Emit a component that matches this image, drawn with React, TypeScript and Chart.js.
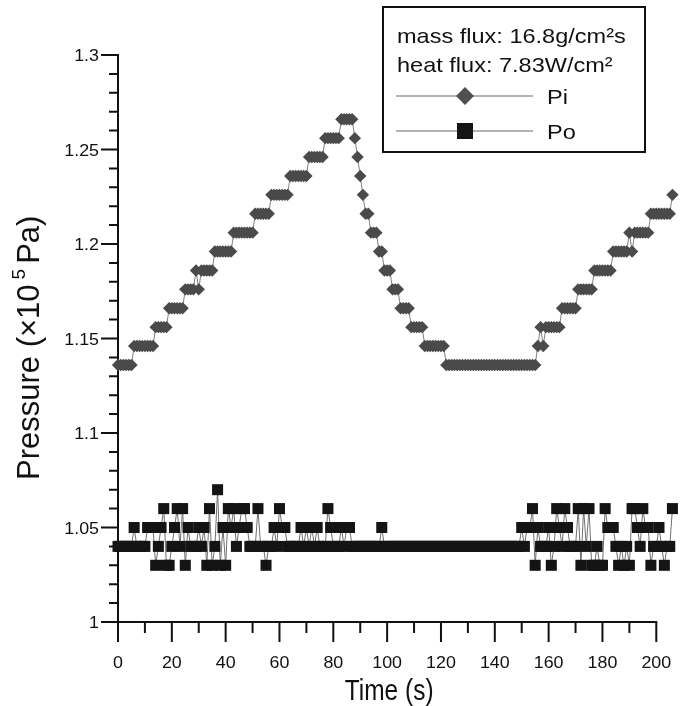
import React, { useEffect, useRef } from 'react';
import { Chart, registerables } from 'chart.js';

Chart.register(...registerables);

// ---------------- data ----------------
const timeS = [
  0, 1, 2, 3, 4, 5, 6, 7, 8, 9,
  10, 11, 12, 13, 14, 15, 16, 17, 18, 19,
  20, 21, 22, 23, 24, 25, 26, 27, 28, 29,
  30, 31, 32, 33, 34, 35, 36, 37, 38, 39,
  40, 41, 42, 43, 44, 45, 46, 47, 48, 49,
  50, 51, 52, 53, 54, 55, 56, 57, 58, 59,
  60, 61, 62, 63, 64, 65, 66, 67, 68, 69,
  70, 71, 72, 73, 74, 75, 76, 77, 78, 79,
  80, 81, 82, 83, 84, 85, 86, 87, 88, 89,
  90, 91, 92, 93, 94, 95, 96, 97, 98, 99,
  100, 101, 102, 103, 104, 105, 106, 107, 108, 109,
  110, 111, 112, 113, 114, 115, 116, 117, 118, 119,
  120, 121, 122, 123, 124, 125, 126, 127, 128, 129,
  130, 131, 132, 133, 134, 135, 136, 137, 138, 139,
  140, 141, 142, 143, 144, 145, 146, 147, 148, 149,
  150, 151, 152, 153, 154, 155, 156, 157, 158, 159,
  160, 161, 162, 163, 164, 165, 166, 167, 168, 169,
  170, 171, 172, 173, 174, 175, 176, 177, 178, 179,
  180, 181, 182, 183, 184, 185, 186, 187, 188, 189,
  190, 191, 192, 193, 194, 195, 196, 197, 198, 199,
  200, 201, 202, 203, 204, 205, 206,
];

const piValues = [
  1.136, 1.136, 1.136, 1.136, 1.136, 1.136, 1.146, 1.146, 1.146, 1.146,
  1.146, 1.146, 1.146, 1.146, 1.156, 1.156, 1.156, 1.156, 1.156, 1.166,
  1.166, 1.166, 1.166, 1.166, 1.166, 1.176, 1.176, 1.176, 1.176, 1.186,
  1.176, 1.186, 1.186, 1.186, 1.186, 1.186, 1.196, 1.196, 1.196, 1.196,
  1.196, 1.196, 1.196, 1.206, 1.206, 1.206, 1.206, 1.206, 1.206, 1.206,
  1.206, 1.216, 1.216, 1.216, 1.216, 1.216, 1.216, 1.226, 1.226, 1.226,
  1.226, 1.226, 1.226, 1.226, 1.236, 1.236, 1.236, 1.236, 1.236, 1.236,
  1.236, 1.246, 1.246, 1.246, 1.246, 1.246, 1.246, 1.256, 1.256, 1.256,
  1.256, 1.256, 1.256, 1.266, 1.266, 1.266, 1.266, 1.266, 1.256, 1.246,
  1.236, 1.226, 1.216, 1.216, 1.206, 1.206, 1.206, 1.196, 1.196, 1.186,
  1.186, 1.186, 1.176, 1.176, 1.176, 1.166, 1.166, 1.166, 1.166, 1.156,
  1.156, 1.156, 1.156, 1.156, 1.146, 1.146, 1.146, 1.146, 1.146, 1.146,
  1.146, 1.146, 1.136, 1.136, 1.136, 1.136, 1.136, 1.136, 1.136, 1.136,
  1.136, 1.136, 1.136, 1.136, 1.136, 1.136, 1.136, 1.136, 1.136, 1.136,
  1.136, 1.136, 1.136, 1.136, 1.136, 1.136, 1.136, 1.136, 1.136, 1.136,
  1.136, 1.136, 1.136, 1.136, 1.136, 1.136, 1.146, 1.156, 1.146, 1.156,
  1.156, 1.156, 1.156, 1.156, 1.156, 1.166, 1.166, 1.166, 1.166, 1.166,
  1.166, 1.176, 1.176, 1.176, 1.176, 1.176, 1.176, 1.186, 1.186, 1.186,
  1.186, 1.186, 1.186, 1.186, 1.196, 1.196, 1.196, 1.196, 1.196, 1.196,
  1.206, 1.196, 1.206, 1.206, 1.206, 1.206, 1.206, 1.206, 1.216, 1.216,
  1.216, 1.216, 1.216, 1.216, 1.216, 1.216, 1.226,
];

const poValues = [
  1.04, 1.04, 1.04, 1.04, 1.04, 1.04, 1.05, 1.04, 1.04, 1.04,
  1.04, 1.05, 1.05, 1.05, 1.03, 1.04, 1.05, 1.06, 1.03, 1.03,
  1.04, 1.05, 1.06, 1.04, 1.06, 1.03, 1.05, 1.04, 1.04, 1.04,
  1.05, 1.04, 1.05, 1.03, 1.06, 1.03, 1.04, 1.07, 1.03, 1.05,
  1.03, 1.06, 1.05, 1.06, 1.04, 1.05, 1.06, 1.06, 1.05, 1.04,
  1.04, 1.04, 1.06, 1.04, 1.04, 1.03, 1.04, 1.04, 1.05, 1.04,
  1.06, 1.05, 1.05, 1.04, 1.04, 1.04, 1.04, 1.04, 1.05, 1.04,
  1.05, 1.04, 1.05, 1.04, 1.05, 1.04, 1.04, 1.04, 1.06, 1.05,
  1.04, 1.04, 1.04, 1.05, 1.04, 1.05, 1.05, 1.04, 1.04, 1.04,
  1.04, 1.04, 1.04, 1.04, 1.04, 1.04, 1.04, 1.04, 1.05, 1.04,
  1.04, 1.04, 1.04, 1.04, 1.04, 1.04, 1.04, 1.04, 1.04, 1.04,
  1.04, 1.04, 1.04, 1.04, 1.04, 1.04, 1.04, 1.04, 1.04, 1.04,
  1.04, 1.04, 1.04, 1.04, 1.04, 1.04, 1.04, 1.04, 1.04, 1.04,
  1.04, 1.04, 1.04, 1.04, 1.04, 1.04, 1.04, 1.04, 1.04, 1.04,
  1.04, 1.04, 1.04, 1.04, 1.04, 1.04, 1.04, 1.04, 1.04, 1.04,
  1.05, 1.04, 1.05, 1.05, 1.06, 1.03, 1.05, 1.04, 1.04, 1.04,
  1.05, 1.03, 1.04, 1.06, 1.05, 1.04, 1.06, 1.05, 1.04, 1.04,
  1.04, 1.06, 1.03, 1.06, 1.04, 1.06, 1.03, 1.03, 1.04, 1.03,
  1.03, 1.06, 1.05, 1.05, 1.05, 1.04, 1.03, 1.04, 1.03, 1.04,
  1.03, 1.06, 1.06, 1.05, 1.04, 1.06, 1.05, 1.05, 1.03, 1.04,
  1.04, 1.05, 1.04, 1.03, 1.04, 1.04, 1.06,
];

const seriesNames = ['Pi', 'Po'];
const legendInfoLines = ['mass flux: 16.8g/cm\u00B2s', 'heat flux: 7.83W/cm\u00B2'];

const xMajorTicks = [0, 20, 40, 60, 80, 100, 120, 140, 160, 180, 200];
const xTickLabels = ['0', '20', '40', '60', '80', '100', '120', '140', '160', '180', '200'];
const xMinorTicks = [10, 30, 50, 70, 90, 110, 130, 150, 170, 190];

const yMajorTicks = [1, 1.05, 1.1, 1.15, 1.2, 1.25, 1.3];
const yTickLabels = ['1', '1.05', '1.1', '1.15', '1.2', '1.25', '1.3'];
const yMinorTicks = [
  1.01, 1.02, 1.03, 1.04, 1.06, 1.07, 1.08, 1.09, 1.11, 1.12, 1.13, 1.14,
  1.16, 1.17, 1.18, 1.19, 1.21, 1.22, 1.23, 1.24, 1.26, 1.27, 1.28, 1.29,
];

const xTitle = 'Time (s)';
const yTitleMain = 'Pressure (\u00D710';
const yTitleSup = '5';
const yTitleEnd = 'Pa)';

// ---------------- styling ----------------
const FONT = '"Liberation Sans", Arial, Helvetica, sans-serif';
const INK = '#111111';

function drawText(
  ctx: CanvasRenderingContext2D,
  s: string,
  x: number,
  y: number,
  size: number,
  align: CanvasTextAlign,
  baseline: CanvasTextBaseline,
  sx = 1,
  sy = 1
) {
  ctx.save();
  ctx.translate(x, y);
  ctx.scale(sx, sy);
  ctx.font = `${size}px ${FONT}`;
  ctx.textAlign = align;
  ctx.textBaseline = baseline;
  ctx.fillStyle = INK;
  ctx.fillText(s, 0, 0);
  ctx.restore();
}

const axesPlugin = {
  id: 'paperAxes',
  beforeDatasetsDraw(chart: any) {
    const ctx: CanvasRenderingContext2D = chart.ctx;
    const xs = chart.scales.x;
    const ys = chart.scales.y;
    const x0 = xs.getPixelForValue(0);
    const xEnd = xs.getPixelForValue(200);
    const yBot = ys.getPixelForValue(1.0);
    const yTop = ys.getPixelForValue(1.3);

    ctx.save();
    ctx.strokeStyle = INK;
    ctx.lineWidth = 2;
    ctx.lineCap = 'butt';
    ctx.beginPath();
    ctx.moveTo(x0, yTop - 1);
    ctx.lineTo(x0, yBot);
    ctx.lineTo(xEnd + 1, yBot);
    ctx.stroke();

    ctx.beginPath();
    yMajorTicks.forEach((v) => {
      const y = ys.getPixelForValue(v);
      ctx.moveTo(x0 - 17, y);
      ctx.lineTo(x0, y);
    });
    yMinorTicks.forEach((v) => {
      const y = ys.getPixelForValue(v);
      ctx.moveTo(x0 - 9, y);
      ctx.lineTo(x0, y);
    });
    xMajorTicks.forEach((v) => {
      const x = xs.getPixelForValue(v);
      ctx.moveTo(x, yBot);
      ctx.lineTo(x, yBot + 20);
    });
    xMinorTicks.forEach((v) => {
      const x = xs.getPixelForValue(v);
      ctx.moveTo(x, yBot);
      ctx.lineTo(x, yBot + 11);
    });
    ctx.stroke();

    yMajorTicks.forEach((v, i) => {
      const y = ys.getPixelForValue(v);
      drawText(ctx, yTickLabels[i], x0 - 19, y + 6, 17, 'right', 'alphabetic', 1.05, 1);
    });
    xMajorTicks.forEach((v, i) => {
      const x = xs.getPixelForValue(v);
      drawText(ctx, xTickLabels[i], x, yBot + 46, 17, 'center', 'alphabetic', 1.05, 1);
    });

    // x title
    drawText(ctx, xTitle, (x0 + xEnd) / 2 + 2, 700, 24, 'center', 'alphabetic', 1.02, 1.2);

    // y title (rotated, with superscript)
    ctx.save();
    ctx.translate(39, 480);
    ctx.rotate(-Math.PI / 2);
    ctx.fillStyle = INK;
    ctx.textAlign = 'left';
    ctx.textBaseline = 'alphabetic';
    ctx.font = `31px ${FONT}`;
    ctx.fillText(yTitleMain, 0, 0);
    let pos = ctx.measureText(yTitleMain).width + 5;
    ctx.font = `19px ${FONT}`;
    ctx.fillText(yTitleSup, pos, -14);
    pos += ctx.measureText(yTitleSup).width + 5;
    ctx.font = `31px ${FONT}`;
    ctx.fillText(yTitleEnd, pos, 0);
    ctx.restore();

    ctx.restore();
  },
  afterDraw(chart: any) {
    const ctx: CanvasRenderingContext2D = chart.ctx;
    ctx.save();
    // legend box
    ctx.fillStyle = '#ffffff';
    ctx.fillRect(383, 7, 262, 145);
    ctx.strokeStyle = INK;
    ctx.lineWidth = 2;
    ctx.strokeRect(383, 7, 262, 145);

    drawText(ctx, legendInfoLines[0], 397, 43, 21, 'left', 'alphabetic', 1.12, 1);
    drawText(ctx, legendInfoLines[1], 397, 72, 21, 'left', 'alphabetic', 1.12, 1);

    const rows = [96, 131];
    rows.forEach((y, i) => {
      ctx.strokeStyle = '#6a6a6a';
      ctx.lineWidth = 1.2;
      ctx.beginPath();
      ctx.moveTo(396, y);
      ctx.lineTo(533, y);
      ctx.stroke();
      const cx = 465;
      if (i === 0) {
        ctx.fillStyle = '#505050';
        ctx.beginPath();
        ctx.moveTo(cx, y - 9);
        ctx.lineTo(cx + 9, y);
        ctx.lineTo(cx, y + 9);
        ctx.lineTo(cx - 9, y);
        ctx.closePath();
        ctx.fill();
      } else {
        ctx.fillStyle = '#151515';
        ctx.fillRect(cx - 8, y - 8, 16, 16);
      }
      drawText(ctx, seriesNames[i], 547, y + 8, 21, 'left', 'alphabetic', 1.12, 1);
    });
    ctx.restore();
  },
};

export default function App() {
  const canvasRef = useRef<HTMLCanvasElement | null>(null);

  useEffect(() => {
    const canvas = canvasRef.current;
    if (!canvas) return;
    const piPoints = timeS.map((t, i) => ({ x: t, y: piValues[i] }));
    const poPoints = timeS.map((t, i) => ({ x: t, y: poValues[i] }));

    const chart = new Chart(canvas, {
      type: 'line',
      data: {
        datasets: [
          {
            label: seriesNames[0],
            data: piPoints,
            borderColor: '#808080',
            borderWidth: 1,
            pointStyle: 'rectRot',
            pointRadius: 6.2,
            pointBackgroundColor: '#4a4a4a',
            pointBorderColor: '#4a4a4a',
            pointBorderWidth: 0,
            tension: 0,
            clip: false,
          } as any,
          {
            label: seriesNames[1],
            data: poPoints,
            borderColor: '#707070',
            borderWidth: 1,
            pointStyle: 'rect',
            pointRadius: 7.8,
            pointBackgroundColor: '#141414',
            pointBorderColor: '#141414',
            pointBorderWidth: 0,
            tension: 0,
            clip: false,
          } as any,
        ],
      },
      options: {
        responsive: false,
        devicePixelRatio: 1,
        animation: false,
        events: [],
        layout: { padding: { left: 118, right: 3, top: 55, bottom: 84 } },
        scales: {
          x: { type: 'linear', min: 0, max: 210, display: false },
          y: { type: 'linear', min: 1.0, max: 1.3, display: false },
        },
        plugins: {
          legend: { display: false },
          tooltip: { enabled: false },
          title: { display: false },
        },
      },
      plugins: [axesPlugin],
    });
    return () => chart.destroy();
  }, []);

  return (
    <div style={{ position: 'fixed', left: 0, top: 0, width: 691, height: 706, background: '#ffffff' }}>
      <canvas ref={canvasRef} width={691} height={706} style={{ display: 'block' }} />
    </div>
  );
}
